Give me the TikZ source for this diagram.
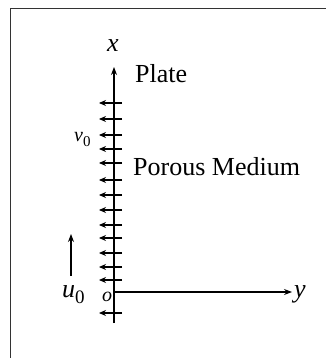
\documentclass[tikz,border=0pt]{standalone}
\usepackage{fontspec}
\setmainfont{Liberation Serif}
\usepackage{tikz}
\usetikzlibrary{arrows.meta}
\tikzstyle{axis}=[draw,line width=1.1pt,-{Stealth[length=8pt,width=6pt]}]
\tikzstyle{suction}=[draw,line width=1.1pt,-{Stealth[length=7pt,width=6pt]}]
\tikzstyle{txt}=[inner sep=0pt]
\newcommand{\bigtext}{\fontsize{26}{30}\selectfont}
\newcommand{\smalltext}{\fontsize{20}{24}\selectfont}
\newcommand{\subzero}[2]{\raisebox{-#1}{\fontsize{#2}{#2}\selectfont\upshape 0}}

\begin{document}
\begin{tikzpicture}[x=1pt,y=-1pt]
    \useasboundingbox (0,0) rectangle (326,358);
    \draw[line width=1pt,black!80] (10,358) -- (10,9) -- (326,9);
    % axes
    \coordinate (O) at (114,292);
    \coordinate (xtop) at (114,67);
    \coordinate (xbot) at (114,323);
    \coordinate (yend) at (292,292);
    \path[axis] (xbot) -- (xtop);
    \path[axis] (O) -- (yend);
    % suction velocity arrows
    \foreach \k/\yy in {1/103, 2/119, 3/135, 4/149, 5/163, 6/180, 7/195, 8/210, 9/225, 10/238, 11/253, 12/267, 13/280, 14/313}
    {
        \coordinate (s\k) at (122,\yy);
        \coordinate (e\k) at (99,\yy);
        \path[suction] (s\k) -- (e\k);
    }
    \coordinate (us) at (71,276);
    \coordinate (ue) at (71,234);
    \path[axis] (us) -- (ue);
    % labels
    \node[txt,anchor=base] (xlab) at (113,52) {\bigtext\itshape x};
    \node[txt,anchor=base west] (plate) at (135,83) {\bigtext Plate};
    \node[txt,anchor=base west] (porous) at (133,175) {\bigtext Porous Medium};
    \node[txt,anchor=base west] (ylab) at (294,297) {\bigtext\itshape y};
    \node[txt,anchor=base west] (ulab) at (62,297) {\bigtext\itshape u\subzero{6pt}{19}};
    \node[txt,anchor=base west] (olab) at (102,301) {\smalltext\itshape o};
    \node[txt,anchor=base west] (vlab) at (74,142) {\smalltext\itshape v\subzero{5pt}{15}};
\end{tikzpicture}
\end{document}
